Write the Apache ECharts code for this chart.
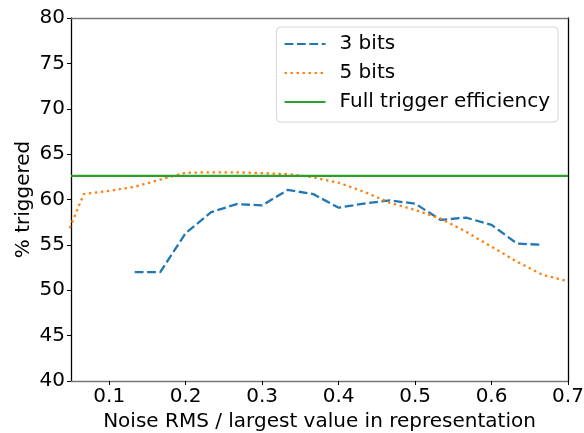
<!DOCTYPE html>
<html>
<head>
<meta charset="utf-8">
<script src="https://cdn.jsdelivr.net/npm/echarts@6/dist/echarts.min.js"></script>
<style>
  html, body { margin: 0; padding: 0; background: #fff; }
  #chart { width: 584px; height: 433px; }
</style>
</head>
<body>
<div id="chart"></div>
<script>
// Noise level (RMS relative to largest representable value)
const noise3 = [0.1333, 0.1667, 0.2, 0.2333, 0.2667, 0.3, 0.3333, 0.3667, 0.4,
                0.4333, 0.4667, 0.5, 0.5333, 0.5667, 0.6, 0.6333, 0.6667];
const triggered3 = [52.0, 52.0, 56.3, 58.6, 59.5, 59.35, 61.05, 60.6, 59.1,
                    59.55, 59.9, 59.55, 57.75, 58.0, 57.2, 55.15, 55.0];

const noise5 = [0.0333, 0.0667, 0.1, 0.1333, 0.1667, 0.2, 0.2333, 0.2667, 0.3,
                0.3333, 0.3667, 0.4, 0.4333, 0.4667, 0.5, 0.5333, 0.5667, 0.6,
                0.6333, 0.6667, 0.7];
const triggered5 = [53.8, 60.6, 60.95, 61.4, 62.2, 62.95, 63.0, 63.0, 62.9,
                    62.8, 62.45, 61.85, 60.85, 59.65, 58.85, 57.9, 56.45, 54.8,
                    53.15, 51.7, 51.0];

const fullEfficiency = 62.6;

const xTicks = [0.1, 0.2, 0.3, 0.4, 0.5, 0.6, 0.7];
const yTicks = [40, 45, 50, 55, 60, 65, 70, 75, 80];

const pairs = (xs, ys) => xs.map((x, i) => [x, ys[i]]);

const font = 'DejaVu Sans';
const fs = 20;
const chart = echarts.init(document.getElementById('chart'), null, { renderer: 'canvas' });

chart.setOption({
  animation: false,
  backgroundColor: '#ffffff',
  textStyle: { fontFamily: font },
  grid: { left: 71, right: 16, top: 18, bottom: 52, containLabel: false, outerBoundsMode: 'none' },
  legend: {
    right: 26, top: 27,
    orient: 'vertical',
    itemWidth: 41, itemHeight: 16, itemGap: 9,
    padding: [7, 8, 10, 7],
    borderColor: '#d6d6d6', borderWidth: 1, borderRadius: 4,
    backgroundColor: 'rgba(255,255,255,0.8)',
    itemStyle: { opacity: 0 },
    textStyle: { fontFamily: font, fontSize: fs, color: '#000', padding: [0, 0, 0, 9] },
    data: ['3 bits', '5 bits', 'Full trigger efficiency']
  },
  xAxis: [{
    type: 'value', min: 0.05, max: 0.7,
    name: 'Noise RMS / largest value in representation',
    nameLocation: 'middle', nameGap: 30,
    nameTextStyle: { fontFamily: font, fontSize: fs, color: '#000' },
    axisLine: { show: true, lineStyle: { color: '#777', width: 1.3 } },
    axisTick: { show: true, customValues: xTicks, length: 4, lineStyle: { color: '#000' } },
    axisLabel: { customValues: xTicks, fontFamily: font, fontSize: fs, color: '#000', margin: 6,
                 formatter: v => v.toFixed(1) },
    splitLine: { show: false }
  }, {
    type: 'value', min: 0.05, max: 0.7, position: 'top',
    axisLine: { show: true, lineStyle: { color: '#777', width: 1.3 } },
    axisTick: { show: false }, axisLabel: { show: false }, splitLine: { show: false }
  }],
  yAxis: [{
    type: 'value', min: 40, max: 80, interval: 5,
    name: '% triggered', nameLocation: 'middle', nameGap: 37, nameMoveOverlap: false,
    nameTextStyle: { fontFamily: font, fontSize: fs, color: '#000' },
    axisLine: { show: true, lineStyle: { color: '#000', width: 1.3 } },
    axisTick: { show: true, customValues: yTicks, length: 4, lineStyle: { color: '#000' } },
    axisLabel: { customValues: yTicks, fontFamily: font, fontSize: fs, color: '#000', margin: 6 },
    splitLine: { show: false }
  }, {
    type: 'value', min: 40, max: 80, position: 'right',
    axisLine: { show: true, lineStyle: { color: '#000', width: 1.3 } },
    axisTick: { show: false }, axisLabel: { show: false }, splitLine: { show: false }
  }],
  series: [{
    name: '3 bits', type: 'line', symbol: 'none', clip: true,
    data: pairs(noise3, triggered3),
    color: '#1f77b4',
    lineStyle: { color: '#1f77b4', width: 2.3, type: [8.8, 3.6] }
  }, {
    name: '5 bits', type: 'line', symbol: 'none', clip: true,
    data: pairs(noise5, triggered5),
    color: '#ff7f0e',
    lineStyle: { color: '#ff7f0e', width: 2.3, type: [2.4, 3.6] }
  }, {
    name: 'Full trigger efficiency', type: 'line', symbol: 'none', clip: true,
    data: [[0.05, fullEfficiency], [0.7, fullEfficiency]],
    color: '#2ca02c',
    lineStyle: { color: '#2ca02c', width: 2.3 }
  }]
});
</script>
</body>
</html>
